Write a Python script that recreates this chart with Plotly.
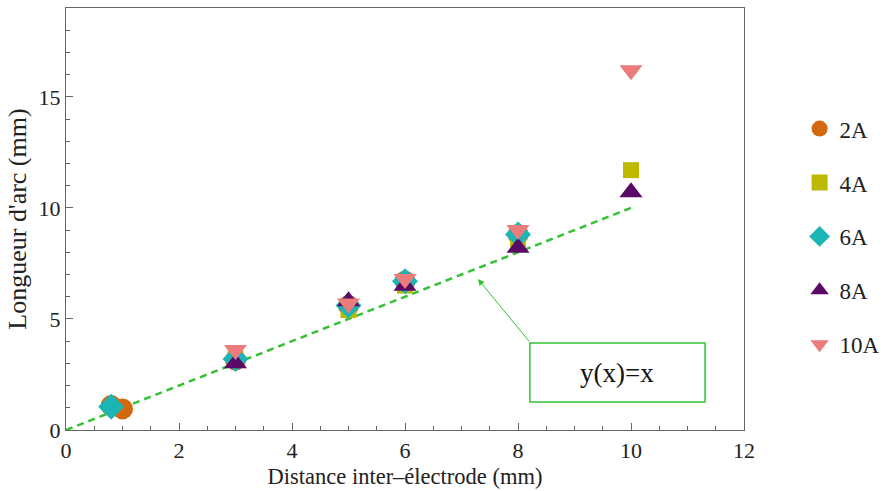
import plotly.graph_objects as go

# Data
x_2A = [0.8, 1.0, 3, 5, 6, 8]
y_2A = [1.1, 0.95, 3.15, 5.6, 6.7, 8.8]
x_4A = [3, 5, 6, 8, 10]
y_4A = [3.2, 5.4, 6.5, 8.6, 11.7]
x_6A = [0.8, 3, 5, 6, 8]
y_6A = [1.05, 3.2, 5.6, 6.7, 8.8]
x_8A = [3, 5, 6, 8, 10]
y_8A = [3.0, 5.8, 6.5, 8.2, 10.7]
x_10A = [3, 5, 6, 8, 10]
y_10A = [3.6, 5.7, 6.8, 9.0, 16.2]
line_x = [0, 10]
line_y = [0, 10]

series = [
    ("2A", x_2A, y_2A, "circle", "#D2690F", 21),
    ("4A", x_4A, y_4A, "square", "#BDB800", 16),
    ("6A", x_6A, y_6A, "diamond", "#1CB5B5", 20),
    ("8A", x_8A, y_8A, "triangle-up", "#5A0A66", 20),
    ("10A", x_10A, y_10A, "triangle-down", "#EC7B7B", 20),
]

FONT = "Liberation Serif, Times New Roman, serif"

fig = go.Figure()
fig.add_trace(go.Scatter(x=line_x, y=line_y, mode="lines",
                         line=dict(color="#33C233", width=2.5, dash="7px,5px"),
                         showlegend=False, hoverinfo="skip"))
for name, xs, ys, sym, col, sz in series:
    fig.add_trace(go.Scatter(x=xs, y=ys, mode="markers", name=name,
                             legendgroup=name,
                             marker=dict(symbol=sym, color=col, size=sz,
                                         line=dict(width=0))))

# annotation box and arrow
fig.add_shape(type="rect", xref="x", yref="y", x0=8.21, x1=11.31, y0=1.26, y1=3.92,
              line=dict(color="#33C233", width=1.5), fillcolor="white", layer="above")
fig.add_annotation(x=9.76, y=2.55, xref="x", yref="y", text="y(x)=x", showarrow=False,
                   font=dict(family=FONT, size=27, color="#111"))
fig.add_annotation(x=7.29, y=6.8, ax=8.22, ay=3.92, xref="x", yref="y", axref="x", ayref="y",
                   text="", showarrow=True, arrowhead=2, arrowsize=1.3, arrowwidth=1,
                   arrowcolor="#33C233")

axis_common = dict(showgrid=False, zeroline=False, showline=True, linecolor="#666",
                   linewidth=1.2, mirror=True, ticks="inside", tickcolor="#666",
                   ticklen=7, tickwidth=1, automargin=False,
                   tickfont=dict(family=FONT, size=22, color="#222"))

fig.update_xaxes(range=[0, 12], tickvals=[0, 2, 4, 6, 8, 10, 12],
                 minor=dict(dtick=0.5, ticks="inside", ticklen=4, tickcolor="#666"),
                 title=dict(text="Distance inter\u2013électrode (mm)",
                            font=dict(family=FONT, size=22.5, color="#222"), standoff=6),
                 **axis_common)
fig.update_yaxes(range=[0, 19], tickvals=[0, 5, 10, 15],
                 minor=dict(dtick=1, ticks="inside", ticklen=4, tickcolor="#666"),
                 title=dict(text="Longueur d'arc (mm)",
                            font=dict(family=FONT, size=26, color="#222"), standoff=4),
                 **axis_common)

fig.update_layout(
    width=887, height=491,
    margin=dict(l=66, r=143, t=8, b=61, autoexpand=False),
    plot_bgcolor="white", paper_bgcolor="white",
    legend=dict(x=1.082, y=0.765, xanchor="left", yanchor="top",
                font=dict(family=FONT, size=23, color="#222"),
                tracegroupgap=21, itemsizing="trace"),
)

fig.write_html("out.html", config={"displayModeBar": False},
               post_script="document.body.style.margin='0';document.body.style.overflow='hidden';")
